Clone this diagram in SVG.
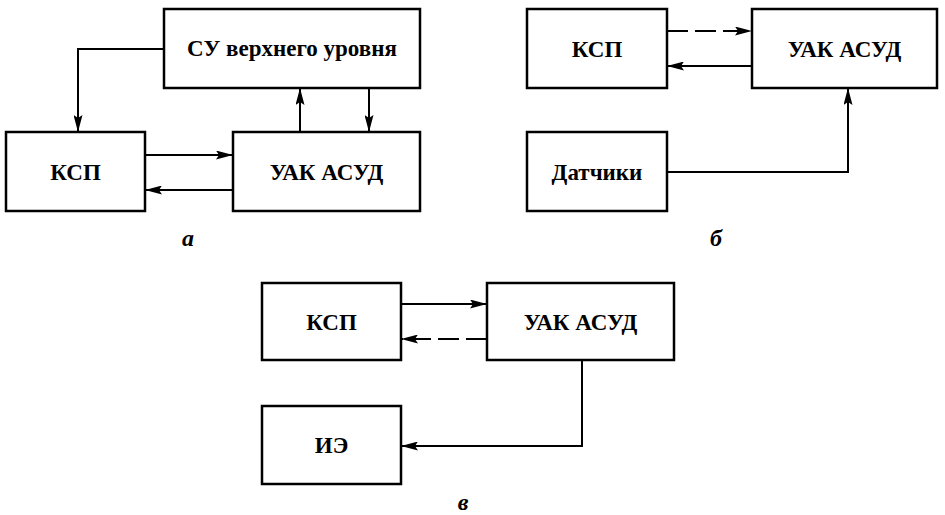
<svg xmlns="http://www.w3.org/2000/svg" width="945" height="515" viewBox="0 0 945 515">
<defs>
<marker id="ah" markerWidth="17" markerHeight="9" refX="17" refY="4.5" orient="auto" markerUnits="userSpaceOnUse">
<path d="M0,0 L17,4.5 L0,9 L3,4.5 Z" fill="#000"/>
</marker>
</defs>
<style>
.box{fill:#fff;stroke:#000;stroke-width:2.5}
.t{font-family:'Liberation Serif','DejaVu Serif',serif;font-weight:700;font-size:23px;text-anchor:middle;fill:#000}
.lbl{font-family:'Liberation Serif','DejaVu Serif',serif;font-weight:700;font-style:italic;font-size:24px;text-anchor:middle;fill:#000}
.c{fill:none;stroke:#000;stroke-width:2;marker-end:url(#ah)}
.d{stroke-dasharray:21 7}
</style>
<rect width="945" height="515" fill="#fff"/>
<g id="connectors">
<path class="c" d="M164,49 H78 V132"/>
<path class="c" d="M300,132 V88"/>
<path class="c" d="M369,88 V132"/>
<path class="c" d="M145,155 H233"/>
<path class="c" d="M233,190 H145"/>
<path class="c d" d="M667,31 H752"/>
<path class="c" d="M752,66 H667"/>
<path class="c" d="M667,172 H848 V88"/>
<path class="c" d="M401,304 H487"/>
<path class="c d" d="M487,339 H401"/>
<path class="c" d="M582,360 V446 H401"/>
</g>
<g id="a-su"><rect class="box" x="164" y="9" width="256" height="79"/><text class="t" x="292" y="56">СУ верхнего уровня</text></g>
<g id="a-ksp"><rect class="box" x="6" y="132" width="139" height="79"/><text class="t" x="75.5" y="180">КСП</text></g>
<g id="a-uak"><rect class="box" x="233" y="132" width="187" height="79"/><text class="t" x="326.5" y="180">УАК АСУД</text></g>
<g id="b-ksp"><rect class="box" x="527" y="9" width="140" height="79"/><text class="t" x="597" y="57">КСП</text></g>
<g id="b-uak"><rect class="box" x="752" y="9" width="185" height="79"/><text class="t" x="844.5" y="57">УАК АСУД</text></g>
<g id="b-sens"><rect class="box" x="527" y="132" width="140" height="79"/><text class="t" x="597" y="180">Датчики</text></g>
<g id="c-ksp"><rect class="box" x="262" y="283" width="139" height="77"/><text class="t" x="331.5" y="330">КСП</text></g>
<g id="c-uak"><rect class="box" x="487" y="283" width="187" height="77"/><text class="t" x="580.5" y="330">УАК АСУД</text></g>
<g id="c-ie"><rect class="box" x="262" y="406" width="139" height="78"/><text class="t" x="331.5" y="453">ИЭ</text></g>
<text class="lbl" x="188" y="246">а</text>
<text class="lbl" x="716" y="246">б</text>
<text class="lbl" x="463" y="510">в</text>
</svg>
